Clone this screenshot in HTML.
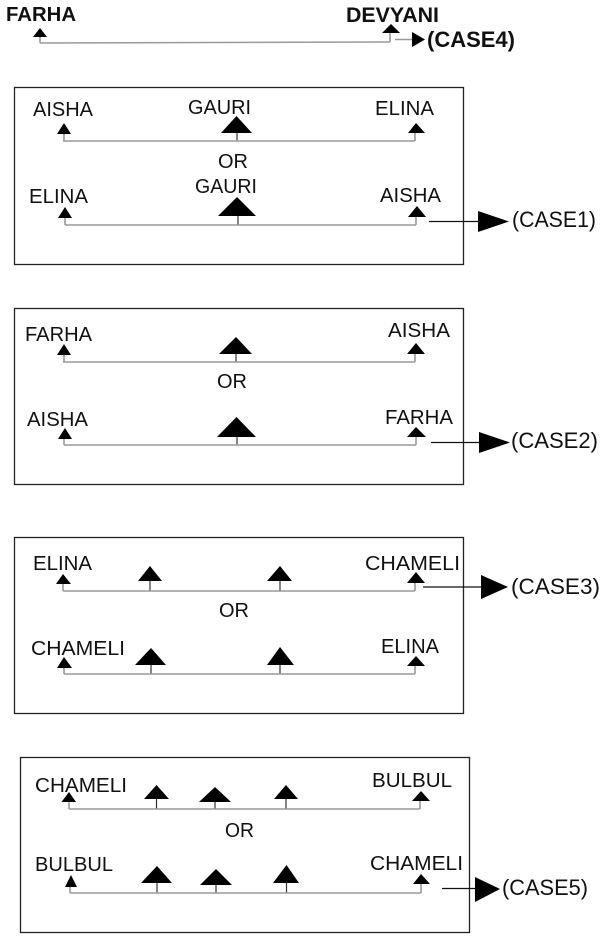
<!DOCTYPE html>
<html>
<head>
<meta charset="utf-8">
<style>
html,body{margin:0;padding:0;background:#fff;}
svg{display:block;}
text{font-family:"Liberation Sans",Arial,sans-serif;fill:#111;}
.b{font-weight:bold;}
.ln{stroke:#9a9a9a;stroke-width:1.5;fill:none;}
.st{stroke:#333;stroke-width:1.2;fill:none;}
.sg{stroke:#8a8a8a;stroke-width:1.4;fill:none;}
.bx{stroke:#222;stroke-width:1.3;fill:none;}
.ar{stroke:#111;stroke-width:1.2;fill:none;}
polygon{fill:#000;}
</style>
</head>
<body>
<svg width="600" height="946" viewBox="0 0 600 946" xmlns="http://www.w3.org/2000/svg">
<!-- TOP -->
<text class="b" x="6" y="21" font-size="20" textLength="70" lengthAdjust="spacingAndGlyphs">FARHA</text>
<polygon points="33,37 47,37 40,28"/>
<line class="sg" x1="40" y1="37" x2="40" y2="43"/>
<line class="ln" x1="40" y1="43" x2="390" y2="42"/>
<text class="b" x="346" y="22" font-size="21" textLength="93" lengthAdjust="spacingAndGlyphs">DEVYANI</text>
<polygon points="382,33 400,33 391,24"/>
<line class="sg" x1="390" y1="33" x2="390" y2="42"/>
<line class="ln" x1="395" y1="39.5" x2="413" y2="39.5"/>
<polygon points="412,32 412,47 425,39.5"/>
<text class="b" x="427" y="47" font-size="22" textLength="88" lengthAdjust="spacingAndGlyphs">(CASE4)</text>

<!-- BOX 1 -->
<rect class="bx" x="14.5" y="87.5" width="449" height="177"/>
<text x="33" y="116" font-size="20" textLength="60" lengthAdjust="spacingAndGlyphs">AISHA</text>
<polygon points="57,134 71,134 64,123"/>
<line class="sg" x1="64" y1="134" x2="64" y2="141"/>
<text x="188" y="114" font-size="20" textLength="63" lengthAdjust="spacingAndGlyphs">GAURI</text>
<polygon points="221,133 252,133 236.5,116"/>
<line class="st" x1="237" y1="133" x2="237" y2="141"/>
<text x="375" y="115" font-size="20" textLength="59" lengthAdjust="spacingAndGlyphs">ELINA</text>
<polygon points="408,133 425,133 416,123"/>
<line class="sg" x1="415" y1="133" x2="415" y2="141"/>
<line class="ln" x1="63" y1="141" x2="415" y2="141"/>
<text x="218" y="168" font-size="20" textLength="30" lengthAdjust="spacingAndGlyphs">OR</text>

<text x="29" y="203" font-size="20" textLength="59" lengthAdjust="spacingAndGlyphs">ELINA</text>
<polygon points="58,218 72,218 65,207"/>
<line class="sg" x1="65" y1="218" x2="65" y2="225"/>
<text x="195" y="193" font-size="20" textLength="62" lengthAdjust="spacingAndGlyphs">GAURI</text>
<polygon points="218,216 256,216 237,197"/>
<line class="st" x1="238" y1="216" x2="238" y2="225"/>
<text x="380" y="202" font-size="20" textLength="61" lengthAdjust="spacingAndGlyphs">AISHA</text>
<polygon points="408,217 426,217 417,206"/>
<line class="sg" x1="416" y1="217" x2="416" y2="225"/>
<line class="ln" x1="65" y1="225" x2="416" y2="225"/>
<line class="ar" x1="429" y1="221.5" x2="481" y2="221.5"/>
<polygon points="478,211 478,232 509,221.5"/>
<text x="512" y="227" font-size="22" textLength="84" lengthAdjust="spacingAndGlyphs">(CASE1)</text>

<!-- BOX 2 -->
<rect class="bx" x="14.5" y="308.5" width="449" height="176"/>
<text x="25" y="341" font-size="20" textLength="67" lengthAdjust="spacingAndGlyphs">FARHA</text>
<polygon points="57,355 71,355 64,344"/>
<line class="sg" x1="64" y1="355" x2="64" y2="362"/>
<polygon points="219,354 252,354 236,337"/>
<line class="st" x1="236" y1="354" x2="236" y2="362"/>
<text x="388" y="337" font-size="20" textLength="62" lengthAdjust="spacingAndGlyphs">AISHA</text>
<polygon points="407,354 425,354 416,343"/>
<line class="sg" x1="415" y1="354" x2="415" y2="362"/>
<line class="ln" x1="63" y1="362" x2="415" y2="362"/>
<text x="217" y="388" font-size="20" textLength="30" lengthAdjust="spacingAndGlyphs">OR</text>

<text x="27" y="426" font-size="20" textLength="61" lengthAdjust="spacingAndGlyphs">AISHA</text>
<polygon points="58,439 72,439 65,428"/>
<line class="sg" x1="64" y1="439" x2="64" y2="445"/>
<polygon points="217,437 256,437 236.5,417"/>
<line class="st" x1="237" y1="437" x2="237" y2="445"/>
<text x="385" y="424" font-size="20" textLength="68" lengthAdjust="spacingAndGlyphs">FARHA</text>
<polygon points="407,437 426,437 416,427"/>
<line class="sg" x1="416" y1="437" x2="416" y2="445"/>
<line class="ln" x1="64" y1="445" x2="416" y2="445"/>
<line class="ar" x1="431" y1="442.5" x2="481" y2="442.5"/>
<polygon points="479,432 479,453 510,442.5"/>
<text x="511" y="448" font-size="22" textLength="87" lengthAdjust="spacingAndGlyphs">(CASE2)</text>

<!-- BOX 3 -->
<rect class="bx" x="14.5" y="537.5" width="449" height="176"/>
<text x="33" y="570" font-size="20" textLength="59" lengthAdjust="spacingAndGlyphs">ELINA</text>
<polygon points="56,584 71,584 63,574"/>
<line class="sg" x1="63" y1="584" x2="63" y2="591"/>
<polygon points="138,581 162,581 150,566"/>
<line class="st" x1="150" y1="581" x2="150" y2="591"/>
<polygon points="267,581 292,581 280,566"/>
<line class="st" x1="280" y1="581" x2="280" y2="591"/>
<text x="365" y="570" font-size="20" textLength="95" lengthAdjust="spacingAndGlyphs">CHAMELI</text>
<polygon points="407,583 425,583 416,572"/>
<line class="sg" x1="415" y1="583" x2="415" y2="591"/>
<line class="ln" x1="63" y1="591" x2="415" y2="591"/>
<line class="ar" x1="423" y1="587" x2="483" y2="587"/>
<polygon points="481,575 481,599 508,587"/>
<text x="511" y="594" font-size="22" textLength="89" lengthAdjust="spacingAndGlyphs">(CASE3)</text>
<text x="219" y="617" font-size="20" textLength="30" lengthAdjust="spacingAndGlyphs">OR</text>

<text x="31" y="655" font-size="20" textLength="94" lengthAdjust="spacingAndGlyphs">CHAMELI</text>
<polygon points="57,668 72,668 64,657"/>
<line class="sg" x1="64" y1="668" x2="64" y2="674"/>
<polygon points="135,665 166,665 151,648"/>
<line class="st" x1="151" y1="665" x2="151" y2="674"/>
<polygon points="267,665 294,665 280,647"/>
<line class="st" x1="280" y1="665" x2="280" y2="674"/>
<text x="381" y="653" font-size="20" textLength="58" lengthAdjust="spacingAndGlyphs">ELINA</text>
<polygon points="407,666 425,666 416,656"/>
<line class="sg" x1="415" y1="666" x2="415" y2="674"/>
<line class="ln" x1="64" y1="674" x2="415" y2="674"/>

<!-- BOX 4 -->
<rect class="bx" x="20.5" y="757.5" width="449" height="175"/>
<text x="35" y="792" font-size="20" textLength="92" lengthAdjust="spacingAndGlyphs">CHAMELI</text>
<polygon points="61.5,802 76,802 69,792"/>
<line class="sg" x1="69" y1="802" x2="69" y2="809"/>
<polygon points="144,799 169,799 156.5,785"/>
<line class="st" x1="156.5" y1="799" x2="156.5" y2="809"/>
<polygon points="199,802 231,802 215,787"/>
<line class="st" x1="215" y1="802" x2="215" y2="809"/>
<polygon points="274,799 298,799 286,785"/>
<line class="st" x1="286" y1="799" x2="286" y2="809"/>
<text x="372" y="787" font-size="20" textLength="80" lengthAdjust="spacingAndGlyphs">BULBUL</text>
<polygon points="412,801 430,801 421,791"/>
<line class="sg" x1="420" y1="801" x2="420" y2="809"/>
<line class="ln" x1="69" y1="809" x2="420" y2="809"/>
<text x="225" y="837" font-size="20" textLength="29" lengthAdjust="spacingAndGlyphs">OR</text>

<text x="35" y="871" font-size="20" textLength="78" lengthAdjust="spacingAndGlyphs">BULBUL</text>
<polygon points="65,887 77,887 71,875"/>
<line class="sg" x1="70" y1="887" x2="70" y2="893"/>
<polygon points="141,883 172,883 157,866"/>
<line class="st" x1="157" y1="883" x2="157" y2="893"/>
<polygon points="200,885 232,885 216,869"/>
<line class="st" x1="216" y1="885" x2="216" y2="893"/>
<polygon points="273,883 299,883 286.5,865"/>
<line class="st" x1="286.5" y1="883" x2="286.5" y2="893"/>
<text x="370" y="870" font-size="20" textLength="93" lengthAdjust="spacingAndGlyphs">CHAMELI</text>
<polygon points="413,884 430,884 421,874"/>
<line class="sg" x1="421" y1="884" x2="421" y2="893"/>
<line class="ln" x1="70" y1="893" x2="421" y2="893"/>
<line class="ar" x1="442" y1="888.5" x2="477" y2="888.5"/>
<polygon points="475,877 475,902 500,889"/>
<text x="502" y="895" font-size="22" textLength="86" lengthAdjust="spacingAndGlyphs">(CASE5)</text>
</svg>
</body>
</html>
